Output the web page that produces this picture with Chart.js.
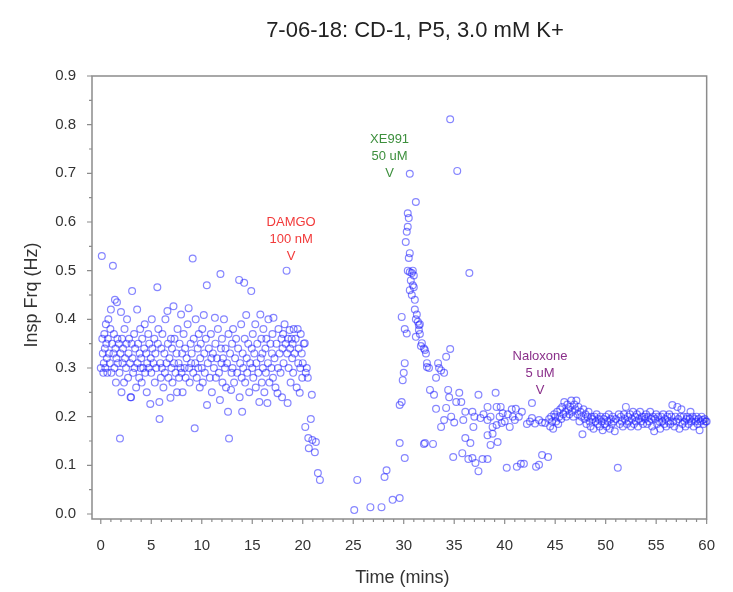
<!DOCTYPE html>
<html>
<head>
<meta charset="utf-8">
<script src="https://cdn.jsdelivr.net/npm/chart.js@4.4.1/dist/chart.umd.min.js"></script>
<style>
  html, body { margin: 0; background: #fff; }
  #wrap { width: 733px; height: 592px; }
</style>
</head>
<body>
<div id="wrap"><canvas id="chart"></canvas></div>
<script>
// Data: [time (mins), insp freq (Hz)]
const baseline = [
  [0.0,0.30],[0.1,0.53],[0.15,0.36],[0.2,0.33],[0.25,0.29],[0.3,0.31],[0.35,0.37],[0.4,0.34],[0.45,0.30],[0.5,0.39],
  [0.55,0.35],[0.6,0.32],[0.65,0.29],[0.7,0.36],[0.75,0.40],[0.8,0.33],[0.9,0.31],[0.95,0.38],
  [1.0,0.42],[1.05,0.29],[1.1,0.35],[1.2,0.51],[1.25,0.33],[1.3,0.37],[1.35,0.30],[1.4,0.44],[1.45,0.34],[1.5,0.27],
  [1.55,0.32],[1.6,0.435],[1.65,0.36],[1.7,0.31],[1.8,0.35],[1.85,0.29],[1.9,0.155],[1.95,0.33],
  [2.0,0.415],[2.05,0.25],[2.1,0.36],[2.15,0.31],[2.2,0.34],[2.3,0.27],[2.35,0.38],[2.4,0.32],[2.5,0.30],[2.55,0.35],
  [2.6,0.40],[2.7,0.28],[2.75,0.33],[2.8,0.36],[2.9,0.31],[2.95,0.24],
  [3.0,0.24],[3.05,0.35],[3.1,0.458],[3.15,0.32],[3.2,0.29],[3.3,0.37],[3.35,0.30],[3.4,0.34],[3.5,0.26],[3.6,0.42],
  [3.65,0.31],[3.7,0.35],[3.8,0.28],[3.85,0.33],[3.9,0.38],[3.95,0.30],
  [4.0,0.32],[4.05,0.27],[4.1,0.36],[4.2,0.30],[4.3,0.34],[4.35,0.39],[4.4,0.29],[4.5,0.33],[4.55,0.25],[4.6,0.31],
  [4.7,0.37],[4.75,0.30],[4.8,0.35],[4.9,0.226],[4.95,0.32],
  [5.0,0.29],[5.05,0.40],[5.1,0.34],[5.2,0.31],[5.3,0.36],[5.35,0.27],[5.4,0.33],[5.5,0.30],[5.6,0.466],[5.65,0.35],
  [5.7,0.38],[5.8,0.23],[5.82,0.195],[5.9,0.31],[5.95,0.28],
  [6.0,0.34],[6.05,0.30],[6.1,0.37],[6.2,0.26],[6.3,0.33],[6.35,0.29],[6.4,0.40],[6.5,0.31],[6.6,0.417],[6.65,0.35],
  [6.7,0.28],[6.8,0.32],[6.9,0.239],[6.95,0.36],
  [7.0,0.30],[7.05,0.34],[7.1,0.27],[7.2,0.427],[7.25,0.31],[7.3,0.36],[7.4,0.29],[7.5,0.33],[7.55,0.25],[7.6,0.38],
  [7.7,0.31],[7.75,0.28],[7.8,0.35],[7.9,0.30],[7.95,0.41],
  [8.0,0.29],[8.05,0.33],[8.1,0.25],[8.2,0.37],[8.3,0.30],[8.35,0.34],[8.4,0.28],[8.5,0.32],[8.6,0.39],[8.7,0.423],
  [8.75,0.30],[8.8,0.27],[8.9,0.35],[8.95,0.31],
  [9.0,0.33],[9.1,0.525],[9.15,0.29],[9.2,0.36],[9.3,0.176],[9.35,0.31],[9.4,0.40],[9.5,0.28],[9.6,0.34],[9.65,0.30],
  [9.7,0.37],[9.8,0.26],[9.85,0.32],[9.9,0.35],
  [10.0,0.30],[10.05,0.38],[10.1,0.27],[10.2,0.409],[10.25,0.33],[10.3,0.29],[10.4,0.36],[10.5,0.47],[10.52,0.224],
  [10.6,0.31],[10.7,0.34],[10.8,0.28],[10.9,0.37],[10.95,0.32],
  [11.0,0.25],[11.1,0.33],[11.2,0.30],[11.3,0.403],[11.35,0.35],[11.4,0.28],[11.5,0.32],[11.6,0.38],[11.7,0.29],
  [11.8,0.234],[11.85,0.493],[11.9,0.34],[11.95,0.31],
  [12.0,0.36],[12.05,0.27],[12.1,0.32],[12.2,0.40],[12.3,0.30],[12.35,0.34],[12.4,0.26],[12.5,0.31],[12.6,0.21],
  [12.65,0.37],[12.7,0.155],[12.8,0.33],[12.9,0.255],[12.95,0.29],
  [13.0,0.35],[13.05,0.30],[13.1,0.38],[13.2,0.27],[13.3,0.32],[13.4,0.36],[13.5,0.29],[13.6,0.34],[13.7,0.481],
  [13.75,0.24],[13.8,0.31],[13.9,0.39],[13.95,0.28],
  [14.0,0.21],[14.05,0.33],[14.1,0.30],[14.2,0.475],[14.25,0.36],[14.3,0.27],[14.4,0.409],[14.45,0.32],[14.5,0.29],
  [14.6,0.35],[14.7,0.25],[14.8,0.31],[14.9,0.458],[14.95,0.34],
  [15.0,0.30],[15.05,0.37],[15.1,0.28],[15.2,0.33],[15.3,0.39],[15.35,0.26],[15.4,0.31],[15.5,0.35],[15.6,0.29],
  [15.7,0.23],[15.8,0.41],[15.85,0.32],[15.9,0.36],[15.95,0.27],
  [16.0,0.33],[16.05,0.30],[16.1,0.38],[16.2,0.25],[16.3,0.34],[16.35,0.29],[16.4,0.36],[16.5,0.228],[16.55,0.31],
  [16.6,0.40],[16.7,0.27],[16.8,0.35],[16.9,0.30],[16.95,0.33],
  [17.0,0.37],[17.05,0.28],[17.1,0.403],[17.2,0.32],[17.3,0.26],[17.4,0.35],[17.5,0.248],[17.55,0.30],[17.6,0.38],
  [17.7,0.33],[17.8,0.29],[17.9,0.36],[17.95,0.24],
  [18.0,0.34],[18.05,0.37],[18.1,0.31],[18.2,0.39],[18.3,0.35],[18.4,0.50],[18.45,0.33],[18.5,0.228],[18.55,0.36],
  [18.6,0.30],[18.7,0.378],[18.75,0.34],[18.8,0.27],[18.9,0.36],[18.95,0.32],
  [19.0,0.35],[19.05,0.29],[19.1,0.38],[19.2,0.33],[19.3,0.36],[19.4,0.26],[19.5,0.38],[19.55,0.31],[19.6,0.34],
  [19.7,0.249],[19.75,0.30],[19.8,0.37],[19.9,0.33],[19.95,0.28]
];

const damgoDrop = [
  [20.0,0.31],[20.1,0.35],[20.2,0.351],[20.25,0.179],[20.3,0.29],[20.4,0.30],[20.5,0.28],[20.55,0.156],[20.6,0.135],
  [20.8,0.195],[20.9,0.245],[20.95,0.152],[21.2,0.127],[21.3,0.148],[21.5,0.084],[21.7,0.07]
];

const xeRecovery = [
  [25.1,0.008],[25.4,0.07],[26.7,0.014],[27.8,0.014],[28.1,0.076],[28.3,0.09],[28.9,0.029],[29.6,0.033],[29.6,0.146],
  [30.1,0.115],[29.6,0.224],[29.8,0.23],[29.9,0.275],[30.0,0.29],[30.1,0.31],[29.8,0.405],[30.1,0.38],[30.3,0.371],
  [30.6,0.699],[31.2,0.641],[30.4,0.618],[30.5,0.608],[30.4,0.59],[30.3,0.58],[30.2,0.559],[30.6,0.536],[30.5,0.526],
  [30.4,0.50],[30.6,0.497],[30.8,0.495],[30.9,0.50],[31.0,0.49],[30.7,0.48],[30.9,0.47],[31.0,0.466],[30.6,0.46],
  [30.8,0.45],[31.1,0.44],[31.1,0.42],[31.3,0.41],[31.2,0.40],[31.4,0.395],[31.5,0.388],[31.6,0.39],[31.5,0.378],
  [31.2,0.364],[31.6,0.37],[31.8,0.351],[31.7,0.345],[32.0,0.34],[32.1,0.337],[32.2,0.33],[32.3,0.31],[32.5,0.30],
  [32.3,0.302],[32.6,0.255],[32.1,0.146],[34.6,0.811],[35.3,0.705],[36.5,0.495]
];

const washout = [
  [33.0,0.245],[32.0,0.144],[32.9,0.144],[33.2,0.28],[33.4,0.31],[33.5,0.30],[33.7,0.295],[34.0,0.29],[34.2,0.323],
  [34.6,0.339],[33.2,0.216],[34.2,0.218],[34.4,0.255],[34.5,0.24],[35.5,0.249],[35.2,0.23],[35.7,0.23],[34.0,0.193],
  [33.7,0.179],[34.7,0.2],[35.0,0.188],[35.9,0.193],[36.1,0.21],[36.8,0.21],[37.4,0.245],[38.3,0.22],[39.1,0.249],
  [39.2,0.22],[39.8,0.207],[41.1,0.216],[41.0,0.193],[36.9,0.179],[37.6,0.197],[38.3,0.193],[38.8,0.179],[39.2,0.183],
  [39.7,0.187],[40.5,0.179],[38.3,0.162],[38.8,0.165],[39.3,0.148],[38.6,0.142],[36.1,0.156],[36.6,0.146],[34.9,0.117],
  [35.8,0.125],[36.4,0.113],[36.8,0.115],[37.1,0.105],[37.4,0.088],[37.8,0.113],[38.3,0.113],[40.2,0.095],[41.2,0.097],
  [41.6,0.103],[41.9,0.103],[43.1,0.097],[43.4,0.101],[43.7,0.121],[44.3,0.117],[42.2,0.185],[42.5,0.19],[42.7,0.197],
  [43.0,0.186],[43.4,0.193],[43.7,0.188],[44.0,0.187],[44.4,0.195],[42.7,0.228],[37.0,0.2],[37.9,0.205],[38.6,0.2],
  [39.5,0.2],[40.0,0.19],[40.3,0.205],[40.8,0.2],[41.4,0.2],[41.7,0.21],[40.7,0.215],[39.6,0.22]
];

const naloxone = [
  [44.5,0.18],[44.6,0.2],[44.7,0.19],[44.8,0.175],[44.9,0.205],[45.0,0.2],[45.1,0.19],[45.2,0.21],[45.3,0.185],
  [45.4,0.2],[45.5,0.215],[45.6,0.195],[45.7,0.22],[45.8,0.205],[45.9,0.23],[46.0,0.21],[46.1,0.2],[46.2,0.225],
  [46.3,0.215],[46.4,0.205],[46.5,0.22],[46.6,0.233],[46.7,0.21],[46.8,0.2],[46.9,0.225],[47.0,0.215],[47.1,0.233],
  [47.2,0.205],[47.3,0.22],[47.4,0.19],[47.5,0.21],[47.6,0.2],[47.7,0.164],[47.8,0.215],[47.9,0.195],[48.0,0.205],
  [48.1,0.185],[48.2,0.2],[48.3,0.21],[48.4,0.19],[48.5,0.18],[48.6,0.2],[48.7,0.195],[48.8,0.175],[48.9,0.2],
  [49.0,0.19],[49.1,0.205],[49.2,0.185],[49.3,0.195],[49.4,0.18],[49.5,0.2],[49.6,0.19],[49.7,0.172],[49.8,0.195],
  [49.9,0.185],[50.0,0.2],[50.1,0.18],[50.2,0.19],[50.3,0.205],[50.4,0.175],[50.5,0.195],[50.6,0.185],[50.7,0.2],
  [50.8,0.19],[50.9,0.17],[51.0,0.195],[51.2,0.095],[51.3,0.205],[51.4,0.185],[51.5,0.2],[51.6,0.19],[51.7,0.18],
  [51.8,0.205],[51.9,0.195],[52.0,0.22],[52.1,0.185],[52.2,0.2],[52.3,0.19],[52.4,0.205],[52.5,0.18],[52.6,0.195],
  [52.7,0.21],[52.8,0.185],[52.9,0.2],[53.0,0.19],[53.1,0.205],[53.2,0.18],[53.3,0.195],[53.4,0.21],[53.5,0.19],
  [53.6,0.2],[53.7,0.185],[53.8,0.2],[53.9,0.195],[54.0,0.205],[54.1,0.185],[54.2,0.2],[54.3,0.19],[54.4,0.21],
  [54.5,0.195],[54.6,0.18],[54.7,0.2],[54.8,0.17],[54.9,0.195],[55.0,0.205],[55.1,0.185],[55.2,0.2],[55.3,0.19],
  [55.4,0.175],[55.5,0.2],[55.6,0.19],[55.7,0.205],[55.8,0.185],[55.9,0.195],[56.0,0.18],[56.1,0.2],[56.2,0.19],
  [56.3,0.205],[56.4,0.185],[56.5,0.2],[56.6,0.224],[56.7,0.19],[56.8,0.18],[56.9,0.2],[57.0,0.19],[57.1,0.22],
  [57.2,0.195],[57.3,0.175],[57.4,0.2],[57.5,0.215],[57.6,0.185],[57.7,0.2],[57.8,0.19],[57.9,0.18],[58.0,0.195],
  [58.1,0.2],[58.2,0.185],[58.3,0.195],[58.4,0.21],[58.5,0.19],[58.6,0.2],[58.7,0.18],[58.8,0.195],[58.9,0.19],
  [59.0,0.2],[59.1,0.185],[59.2,0.195],[59.3,0.172],[59.4,0.19],[59.5,0.2],[59.6,0.193],[59.7,0.185],[59.8,0.195],
  [59.9,0.19],[60.0,0.19]
];

// drug annotations: label lines, time, freq of the arrow tip, colour
const drugs = [
  { lines: ["DAMGO", "100 nM"], t: 18.85, f: 0.530, color: "#f23a3a" },
  { lines: ["XE991", "50 uM"], t: 28.6, f: 0.699, color: "#3d8f3d" },
  { lines: ["Naloxone", "5 uM"], t: 43.5, f: 0.253, color: "#8a2f8a" },
];

const xMajor = [0, 5, 10, 15, 20, 25, 30, 35, 40, 45, 50, 55, 60];
const yMajor = [0, 0.1, 0.2, 0.3, 0.4, 0.5, 0.6, 0.7, 0.8, 0.9];

const FONT = "'Liberation Sans', Arial, sans-serif";
const AXIS_GREY = "#8c8c8c";

const allPoints = [...baseline, ...damgoDrop, ...xeRecovery, ...washout, ...naloxone]
  .map(([t, f]) => ({ x: t, y: f }));

// frame, minor/major tick marks, titles and drug labels
const decorations = {
  id: "decorations",
  beforeDatasetsDraw(chart) {
    const { ctx, chartArea: a, scales } = chart;
    ctx.save();
    ctx.strokeStyle = AXIS_GREY;
    ctx.lineWidth = 1.5;
    ctx.strokeRect(a.left, a.top, a.right - a.left, a.bottom - a.top);
    ctx.lineWidth = 1.2;
    ctx.beginPath();
    scales.x.ticks.forEach((tk) => {
      const px = scales.x.getPixelForValue(tk.value);
      const len = xMajor.includes(tk.value) ? 5 : 3;
      ctx.moveTo(px, a.bottom);
      ctx.lineTo(px, a.bottom + len);
    });
    scales.y.ticks.forEach((tk) => {
      const py = scales.y.getPixelForValue(tk.value);
      const major = yMajor.some((v) => Math.abs(v - tk.value) < 1e-6);
      ctx.moveTo(a.left, py);
      ctx.lineTo(a.left - (major ? 5 : 3), py);
    });
    ctx.stroke();
    ctx.restore();
  },
  afterDraw(chart) {
    const { ctx, chartArea: a, scales } = chart;
    ctx.save();
    ctx.fillStyle = "#222";
    ctx.textAlign = "center";
    ctx.textBaseline = "middle";
    ctx.font = `22px ${FONT}`;
    ctx.fillText("7-06-18: CD-1, P5, 3.0 mM K+", 415, 31);
    ctx.font = `18px ${FONT}`;
    ctx.fillStyle = "#333";
    ctx.fillText("Time (mins)", (a.left + a.right) / 2 + 3, 578);
    ctx.translate(32, 295);
    ctx.rotate(-Math.PI / 2);
    ctx.fillText("Insp Frq (Hz)", 0, 0);
    ctx.restore();

    ctx.save();
    ctx.textAlign = "center";
    ctx.textBaseline = "middle";
    drugs.forEach((d) => {
      const px = scales.x.getPixelForValue(d.t);
      const py = scales.y.getPixelForValue(d.f);
      ctx.fillStyle = d.color;
      ctx.font = `13px ${FONT}`;
      ctx.fillText(d.lines[0], px, py - 34);
      ctx.fillText(d.lines[1], px, py - 17);
      ctx.fillText("V", px, py);
    });
    ctx.restore();
  },
};

const ctx = document.getElementById("chart").getContext("2d");
const chart = new Chart(ctx, {
  type: "scatter",
  data: {
    datasets: [
      {
        label: "Insp Frq",
        data: allPoints,
        pointStyle: "circle",
        pointRadius: 3.4,
        pointBorderWidth: 1.2,
        borderColor: "rgba(35, 35, 255, 0.55)",
        backgroundColor: "rgba(0, 0, 0, 0)",
        clip: false,
      },
    ],
  },
  options: {
    responsive: true,
    maintainAspectRatio: false, // fill the 733x592 box
    animation: false,
    layout: { padding: { top: 76, right: 11, left: 0, bottom: 0 } },
    plugins: { legend: { display: false }, tooltip: { enabled: false } },
    scales: {
      x: {
        type: "linear",
        min: -0.87,
        max: 60,
        afterBuildTicks(scale) {
          const ticks = [];
          for (let v = 0; v <= 60; v++) ticks.push({ value: v });
          scale.ticks = ticks;
        },
        afterFit(scale) { scale.height = 73; },
        ticks: {
          autoSkip: false,
          maxRotation: 0,
          padding: 18,
          color: "#333",
          font: { family: FONT, size: 15 },
          callback: (v) => (xMajor.includes(v) ? String(v) : ""),
        },
        grid: { display: false, drawTicks: false },
        border: { display: false },
      },
      y: {
        type: "linear",
        min: -0.0103,
        max: 0.9,
        afterBuildTicks(scale) {
          const ticks = [];
          for (let i = 0; i <= 18; i++) ticks.push({ value: i * 0.05 });
          scale.ticks = ticks;
        },
        afterFit(scale) { scale.width = 92; },
        ticks: {
          autoSkip: false,
          padding: 16,
          color: "#333",
          font: { family: FONT, size: 15 },
          callback: (v) => {
            const hit = yMajor.find((m) => Math.abs(m - v) < 1e-6);
            return hit === undefined ? "" : hit.toFixed(1);
          },
        },
        grid: { display: false, drawTicks: false },
        border: { display: false },
      },
    },
  },
  plugins: [decorations],
});
</script>
</body>
</html>
